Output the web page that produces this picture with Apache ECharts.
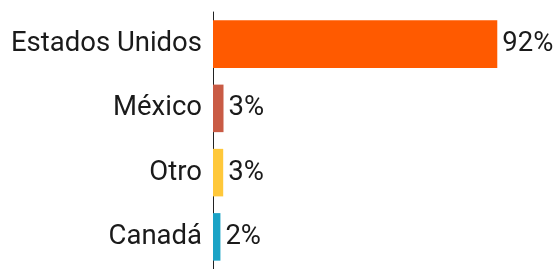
<!DOCTYPE html>
<html lang="es" style="height: 100%">
<head>
  <meta charset="utf-8">
  <style>
    body { margin: 0; background: #ffffff; }
  </style>
</head>
<body style="height: 100%; margin: 0">
  <div id="container" style="width: 555px; height: 269px"></div>

  <script type="text/javascript" src="https://cdn.jsdelivr.net/npm/echarts@6/dist/echarts.min.js"></script>
  <script type="text/javascript">
    // data (top to bottom)
    var categories = ['Estados Unidos', 'México', 'Otro', 'Canadá'];
    var values = [92, 3.4, 3.3, 2.4];
    var colors = ['#ff5a00', '#c95b45', '#ffc83a', '#1ba3c6'];

    var myChart = echarts.init(document.getElementById('container'), null, { renderer: 'canvas' });

    var option = {
      animation: false,
      grid: { left: 213, right: 33, top: 12, height: 260, containLabel: false },
      xAxis: {
        type: 'value',
        min: 0,
        max: 100,
        show: false
      },
      yAxis: {
        type: 'category',
        inverse: true,
        data: categories,
        axisLine: { show: true, lineStyle: { color: '#222', width: 1 } },
        axisTick: { show: false },
        axisLabel: {
          margin: 11,
          fontFamily: 'Roboto',
          fontSize: 27.5,
          color: '#1a1a1a'
        }
      },
      series: [{
        type: 'bar',
        barCategoryGap: '26%',
        data: values.map(function (v, i) {
          return { value: v, itemStyle: { color: colors[i] } };
        }),
        label: {
          show: true,
          position: 'right',
          distance: 5,
          fontFamily: 'Roboto',
          fontSize: 27.5,
          color: '#1a1a1a',
          formatter: function (p) { return Math.round(p.value) + '%'; }
        }
      }]
    };

    myChart.setOption(option);
    window.addEventListener('resize', myChart.resize);
  </script>
</body>
</html>
